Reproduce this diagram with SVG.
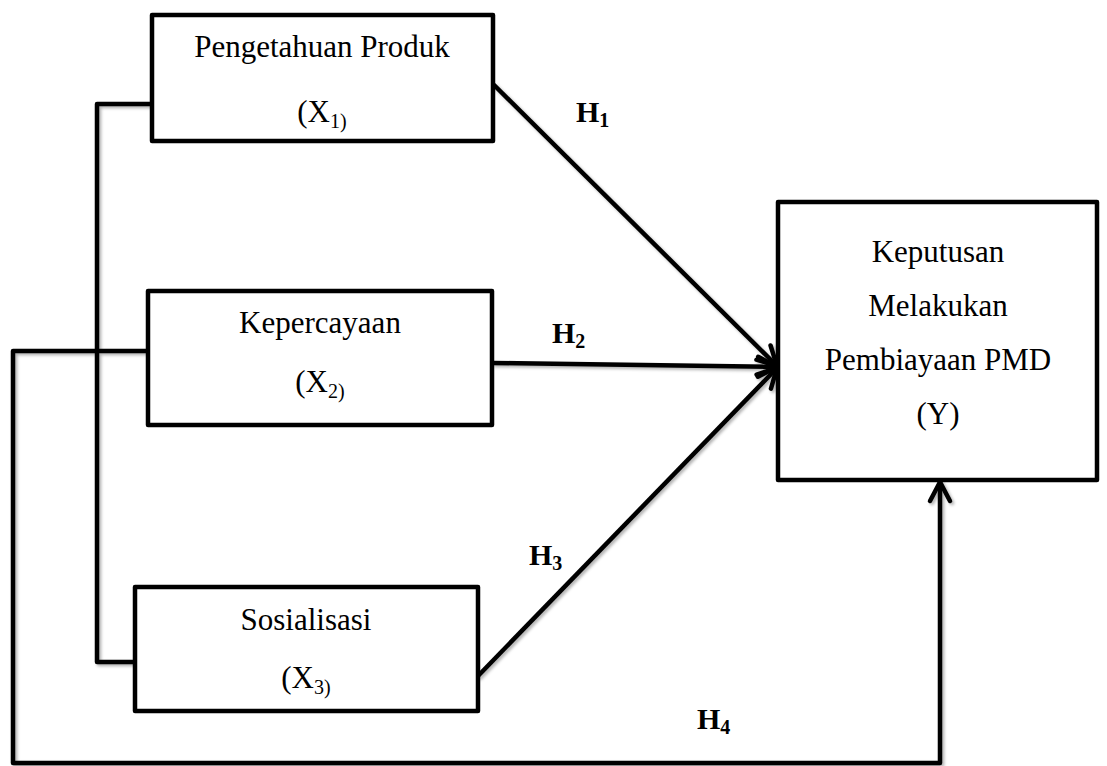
<svg xmlns="http://www.w3.org/2000/svg" width="1107" height="766" viewBox="0 0 1107 766">
<style>
.box{fill:#fff;stroke:#000;stroke-width:4.5;stroke-linejoin:round}
.t{font-family:"Liberation Serif","Times New Roman",serif;font-size:31px;fill:#000;text-anchor:middle}
.sub{font-size:20px}
.h{font-family:"Liberation Serif","Times New Roman",serif;font-size:30px;font-weight:bold;fill:#000}
.hs{font-size:20px}
.c{fill:none;stroke:#000;stroke-width:4.5;stroke-linejoin:round}
</style>
<defs>
<filter id="sh" x="-5%" y="-5%" width="110%" height="110%">
<feDropShadow dx="2" dy="2" stdDeviation="1.5" flood-color="#000" flood-opacity="0.3"/>
</filter>
<marker id="arr" markerUnits="userSpaceOnUse" markerWidth="30" markerHeight="30" refX="0" refY="0" orient="auto" overflow="visible" viewBox="-25 -15 30 30">
<path d="M-19,-10 L0,0 L-19,10" fill="none" stroke="#000" stroke-width="4.5" stroke-linecap="round" stroke-linejoin="round"/>
</marker>
</defs>
<g id="connectors" filter="url(#sh)">
<path class="c" d="M152,104 L97,104 L97,662 L135,662"/>
<path class="c" d="M148,351 L13,351 L13,763 L940,763 L940,482" marker-end="url(#arr)"/>
<path class="c" d="M493,84 L777,366" marker-end="url(#arr)"/>
<path class="c" d="M492,363 L777,367" marker-end="url(#arr)"/>
<path class="c" d="M477,677 L777,368" marker-end="url(#arr)"/>
</g>
<g id="x1">
<rect class="box" x="152" y="15" width="341" height="126"/>
<text class="t" x="322" y="57">Pengetahuan Produk</text>
<text class="t" x="322" y="122">(X<tspan class="sub" dy="6">1)</tspan></text>
</g>
<g id="x2">
<rect class="box" x="148" y="291" width="344" height="134"/>
<text class="t" x="320" y="333">Kepercayaan</text>
<text class="t" x="320" y="392">(X<tspan class="sub" dy="6">2)</tspan></text>
</g>
<g id="x3">
<rect class="box" x="135" y="587" width="343" height="124"/>
<text class="t" x="306" y="630">Sosialisasi</text>
<text class="t" x="306" y="688">(X<tspan class="sub" dy="6">3)</tspan></text>
</g>
<g id="y">
<rect class="box" x="778" y="202" width="319" height="278"/>
<text class="t" x="938" y="262">Keputusan</text>
<text class="t" x="938" y="316">Melakukan</text>
<text class="t" x="938" y="370">Pembiayaan PMD</text>
<text class="t" x="938" y="424">(Y)</text>
</g>
<g id="labels">
<text class="h" x="576" y="122">H<tspan class="hs" dy="5">1</tspan></text>
<text class="h" x="552" y="343">H<tspan class="hs" dy="5">2</tspan></text>
<text class="h" x="529" y="565">H<tspan class="hs" dy="5">3</tspan></text>
<text class="h" x="697" y="729">H<tspan class="hs" dy="5">4</tspan></text>
</g>
</svg>
